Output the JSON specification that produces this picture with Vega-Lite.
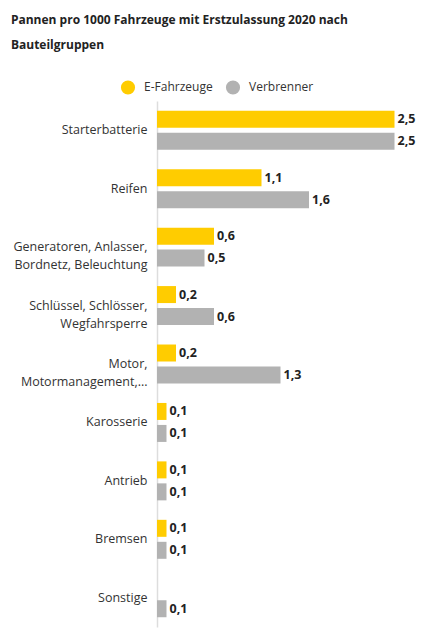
{
  "$schema": "https://vega.github.io/schema/vega-lite/v6.json",
  "width": 266,
  "height": 526,
  "autosize": {"type": "none"},
  "padding": {"left": 157, "top": 101, "right": 7, "bottom": 12},
  "background": "white",
  "title": {
    "text": ["Pannen pro 1000 Fahrzeuge mit Erstzulassung 2020 nach", "Bauteilgruppen"],
    "anchor": "start",
    "frame": "bounds",
    "font": "Open Sans",
    "fontSize": 12,
    "fontWeight": "bold",
    "color": "#222",
    "lineHeight": 25,
    "offset": 27,
    "dx": -2
  },
  "data": {
    "values": [
      {"gruppe": "Starterbatterie", "antrieb": "E-Fahrzeuge", "wert": 2.5},
      {"gruppe": "Starterbatterie", "antrieb": "Verbrenner", "wert": 2.5},
      {"gruppe": "Reifen", "antrieb": "E-Fahrzeuge", "wert": 1.1},
      {"gruppe": "Reifen", "antrieb": "Verbrenner", "wert": 1.6},
      {"gruppe": "Generatoren, Anlasser,|Bordnetz, Beleuchtung", "antrieb": "E-Fahrzeuge", "wert": 0.6},
      {"gruppe": "Generatoren, Anlasser,|Bordnetz, Beleuchtung", "antrieb": "Verbrenner", "wert": 0.5},
      {"gruppe": "Schlüssel, Schlösser,|Wegfahrsperre", "antrieb": "E-Fahrzeuge", "wert": 0.2},
      {"gruppe": "Schlüssel, Schlösser,|Wegfahrsperre", "antrieb": "Verbrenner", "wert": 0.6},
      {"gruppe": "Motor,|Motormanagement,...", "antrieb": "E-Fahrzeuge", "wert": 0.2},
      {"gruppe": "Motor,|Motormanagement,...", "antrieb": "Verbrenner", "wert": 1.3},
      {"gruppe": "Karosserie", "antrieb": "E-Fahrzeuge", "wert": 0.1},
      {"gruppe": "Karosserie", "antrieb": "Verbrenner", "wert": 0.1},
      {"gruppe": "Antrieb", "antrieb": "E-Fahrzeuge", "wert": 0.1},
      {"gruppe": "Antrieb", "antrieb": "Verbrenner", "wert": 0.1},
      {"gruppe": "Bremsen", "antrieb": "E-Fahrzeuge", "wert": 0.1},
      {"gruppe": "Bremsen", "antrieb": "Verbrenner", "wert": 0.1},
      {"gruppe": "Sonstige", "antrieb": "Verbrenner", "wert": 0.1}
    ]
  },
  "encoding": {
    "y": {
      "field": "gruppe",
      "type": "nominal",
      "sort": null,
      "scale": {"paddingInner": 0.333, "paddingOuter": 0.167},
      "axis": {
        "title": null,
        "ticks": false,
        "labelExpr": "split(datum.label, '|')",
        "labelFont": "Open Sans",
        "labelFontSize": 12.5,
        "labelColor": "#333",
        "labelPadding": 10,
        "labelLineHeight": 18,
        "labelLimit": 200,
        "domainColor": "#dddddd",
        "domainWidth": 1.5
      }
    },
    "yOffset": {
      "field": "antrieb",
      "type": "nominal",
      "scale": {"domain": ["E-Fahrzeuge", "Verbrenner"], "paddingInner": 0.227, "paddingOuter": 0}
    },
    "x": {
      "field": "wert",
      "type": "quantitative",
      "scale": {"domain": [0, 2.8]},
      "axis": null
    }
  },
  "layer": [
    {
      "mark": {"type": "bar"},
      "encoding": {
        "color": {
          "field": "antrieb",
          "type": "nominal",
          "scale": {"domain": ["E-Fahrzeuge", "Verbrenner"], "range": ["#ffcc00", "#b2b2b2"]},
          "legend": {
            "title": null,
            "orient": "none",
            "direction": "horizontal",
            "legendX": -37,
            "legendY": -22,
            "symbolType": "circle",
            "symbolSize": 200,
            "symbolOpacity": 1,
            "labelFont": "Open Sans",
            "labelFontSize": 12,
            "labelColor": "#333",
            "columnPadding": 12,
            "labelOffset": 8
          }
        }
      }
    },
    {
      "mark": {
        "type": "text",
        "align": "left",
        "baseline": "middle",
        "dx": 3,
        "font": "Open Sans",
        "fontSize": 12.5,
        "fontWeight": "bold",
        "color": "#222"
      },
      "encoding": {
        "text": {"field": "wert", "type": "quantitative", "format": ".1f"}
      }
    }
  ],
  "config": {
    "view": {"stroke": null},
    "locale": {
      "number": {"decimal": ",", "thousands": ".", "grouping": [3], "currency": ["", " €"]}
    }
  }
}
